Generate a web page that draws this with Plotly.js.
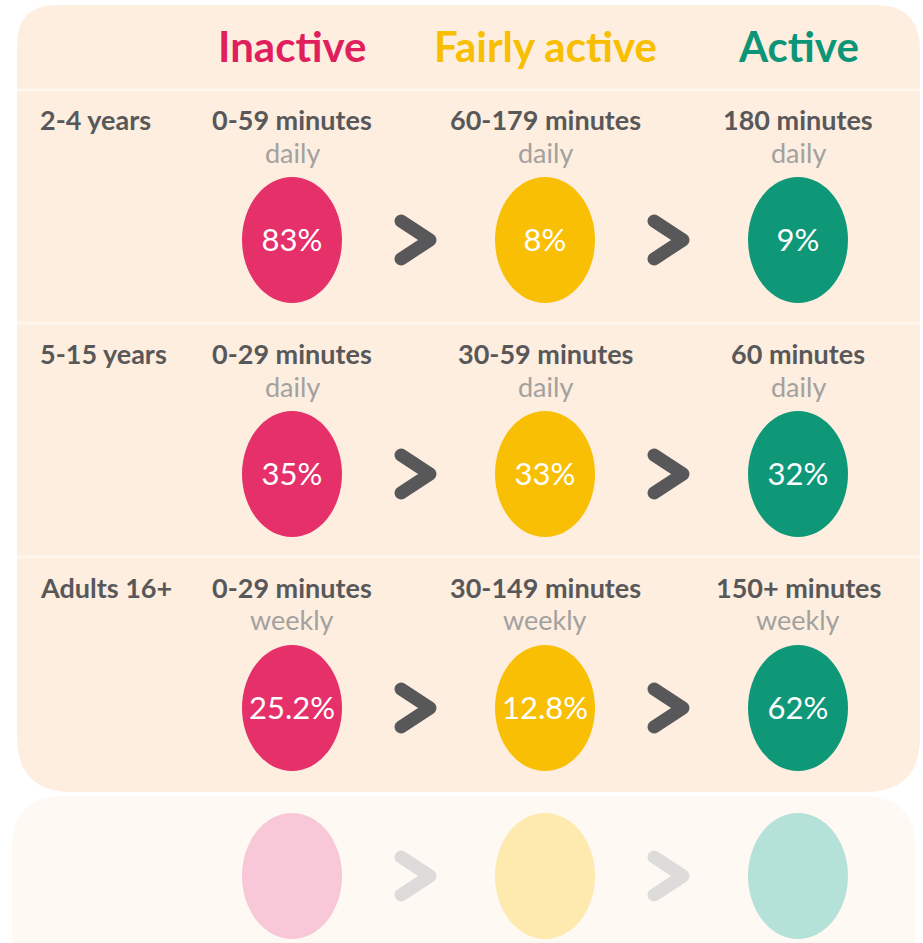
<!DOCTYPE html>
<html>
<head>
<meta charset="utf-8">
<script src="https://cdn.plot.ly/plotly-3.0.1.min.js"></script>
<style>
  html, body { margin: 0; padding: 0; background: #ffffff; }
  #chart { width: 923px; height: 943px; }
  path.js-line { stroke-linecap: round !important; stroke-linejoin: round !important; }
</style>
</head>
<body>
<div id="chart"></div>
<script>
// ---------------- DATA ----------------
const levels = ['Inactive', 'Fairly active', 'Active'];
const groups = ['2-4 years', '5-15 years', 'Adults 16+'];
const durationsInactive = ['0-59 minutes', '0-29 minutes', '0-29 minutes'];
const durationsFairly = ['60-179 minutes', '30-59 minutes', '30-149 minutes'];
const durationsActive = ['180 minutes', '60 minutes', '150+ minutes'];
const periods = ['daily', 'daily', 'weekly'];
const sharesInactive = [83, 35, 25.2];
const sharesFairly = [8, 33, 12.8];
const sharesActive = [9, 32, 62];

// ---------------- LAYOUT / STYLE ----------------
const W = 923, H = 943;
const colX = [292, 545, 798];
const arrowX = [415, 668];
const labelX = 38;
const headerY = 46;
const durY = [119, 353, 587];
const perY = [152, 386, 619];
const circY = [240, 474, 708];
const pctOffset = 3;
const sepY = [90, 323, 557];
const card = {x0: 17, x1: 920, y0: 5, y1: 792};
const rx = 50, ry = 63;
const levelColors = ['#E5306A', '#F9BF05', '#0E9878'];
const headColors = ['#E01F5E', '#F8BE00', '#0D9577'];
const reflColors = ['#F8C7D8', '#FEEAAE', '#B4E2D8'];
const darkGray = '#58585A';
const lightGray = '#A3A19F';
const bodyFont = 'Lato, "Liberation Sans", sans-serif';

const durations = [durationsInactive, durationsFairly, durationsActive];
const shares = [sharesInactive, sharesFairly, sharesActive];

const shapes = [];
const annotations = [];

// card (rounded)
const c = card;
shapes.push({
  type: 'path', xref: 'x', yref: 'y', layer: 'below',
  path: `M ${c.x0+40},${c.y0} L ${c.x1-45},${c.y0} Q ${c.x1},${c.y0} ${c.x1},${c.y0+45} ` +
        `L ${c.x1},${c.y1-55} Q ${c.x1},${c.y1} ${c.x1-55},${c.y1} L ${c.x0+55},${c.y1} ` +
        `Q ${c.x0},${c.y1} ${c.x0},${c.y1-55} L ${c.x0},${c.y0+40} Q ${c.x0},${c.y0} ${c.x0+40},${c.y0} Z`,
  fillcolor: '#FDEEDF', line: {width: 0}
});
// reflection area
const ry0 = c.y1 + 4;
shapes.push({
  type: 'path', xref: 'x', yref: 'y', layer: 'below',
  path: `M ${c.x0+50},${ry0} L ${c.x1-60},${ry0} Q ${c.x1-5},${ry0} ${c.x1-5},${ry0+50} L ${c.x1-5},${H} ` +
        `L ${c.x0-5},${H} L ${c.x0-5},${ry0+50} Q ${c.x0-5},${ry0} ${c.x0+50},${ry0} Z`,
  fillcolor: '#FEF9F3', line: {width: 0}
});
// separators
sepY.forEach(y => shapes.push({
  type: 'line', xref: 'x', yref: 'y', x0: c.x0, x1: c.x1, y0: y, y1: y,
  line: {color: '#FFF6EE', width: 3}, layer: 'below'
}));

// headers
levels.forEach((lv, i) => annotations.push({
  x: colX[i], y: headerY, xref: 'x', yref: 'y', text: '<b>' + lv + '</b>', showarrow: false,
  xanchor: 'center', yanchor: 'middle',
  font: {family: bodyFont, size: 42, color: headColors[i]}
}));

// rows
groups.forEach((g, r) => {
  annotations.push({
    x: labelX, y: durY[r], xref: 'x', yref: 'y', text: '<b>' + g + '</b>', showarrow: false,
    xanchor: 'left', yanchor: 'middle', font: {family: bodyFont, size: 27, color: darkGray}
  });
  levels.forEach((lv, i) => {
    annotations.push({
      x: colX[i], y: durY[r], xref: 'x', yref: 'y', text: '<b>' + durations[i][r] + '</b>', showarrow: false,
      xanchor: 'center', yanchor: 'middle', font: {family: bodyFont, size: 27, color: darkGray}
    });
    annotations.push({
      x: colX[i], y: perY[r], xref: 'x', yref: 'y', text: periods[r], showarrow: false,
      xanchor: 'center', yanchor: 'middle', font: {family: bodyFont, size: 27, color: lightGray}
    });
    shapes.push({
      type: 'circle', xref: 'x', yref: 'y', layer: 'below',
      x0: colX[i] - rx, x1: colX[i] + rx, y0: circY[r] - ry, y1: circY[r] + ry,
      fillcolor: levelColors[i], line: {width: 0}
    });
  });
});

// reflection of bottom row
const reflY = 2 * c.y1 - circY[2];
levels.forEach((lv, i) => {
  shapes.push({
    type: 'circle', xref: 'x', yref: 'y', layer: 'below',
    x0: colX[i] - rx, x1: colX[i] + rx, y0: reflY - ry, y1: reflY + ry,
    fillcolor: reflColors[i], line: {width: 0}
  });
});

// chevrons
function chevrons(ys) {
  const xs = [], yy = [];
  ys.forEach(y => arrowX.forEach(ax => {
    xs.push(ax - 14, ax + 15, ax - 14, null);
    yy.push(y - 19, y, y + 19, null);
  }));
  return {xs, yy};
}
const ch = chevrons(circY);
const chR = chevrons([reflY]);

// percentages
const pctX = [], pctY = [], pctT = [];
groups.forEach((g, r) => levels.forEach((lv, i) => {
  pctX.push(colX[i]); pctY.push(circY[r] + pctOffset); pctT.push(shares[i][r] + '%');
}));

const traces = [
  {x: chR.xs, y: chR.yy, mode: 'lines', line: {color: '#DEDCDA', width: 13}, hoverinfo: 'skip', connectgaps: false},
  {x: ch.xs, y: ch.yy, mode: 'lines', line: {color: darkGray, width: 13}, hoverinfo: 'skip', connectgaps: false},
  {x: pctX, y: pctY, mode: 'text', text: pctT, textposition: 'middle center',
   textfont: {family: bodyFont, size: 31, color: '#FFFFFF'}, hoverinfo: 'skip'}
];

const layout = {
  width: W, height: H, margin: {l: 0, r: 0, t: 0, b: 0},
  paper_bgcolor: '#FFFFFF', plot_bgcolor: '#FFFFFF', showlegend: false,
  xaxis: {range: [0, W], visible: false, fixedrange: true},
  yaxis: {range: [H, 0], visible: false, fixedrange: true},
  shapes, annotations
};
Plotly.newPlot('chart', traces, layout, {staticPlot: true, displayModeBar: false});
</script>
</body>
</html>
